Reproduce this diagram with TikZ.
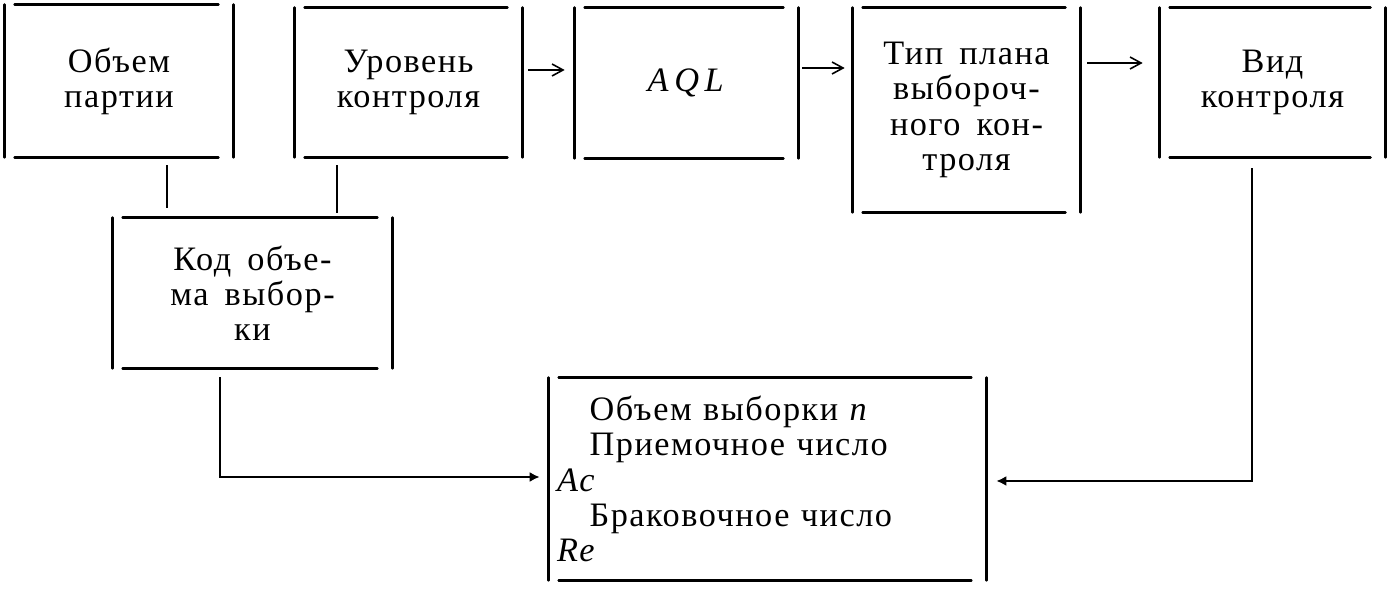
\documentclass[tikz,border=0pt]{standalone}
\usepackage{fontspec}
\setmainfont[LetterSpace=4.5,WordSpace=1.6]{Liberation Serif}
\usepackage{tikz}
\usetikzlibrary{arrows.meta,positioning,calc}
\tikzset{
  rama/.style={line width=1.6pt,line cap=round},
  blok/.style={align=center,inner sep=0pt,font=\fontsize{19.5}{20}\selectfont,
    append after command={
      (\tikzlastnode.north west) edge[rama] (\tikzlastnode.south west)
      (\tikzlastnode.north east) edge[rama] (\tikzlastnode.south east)
      ([xshift=2mm]\tikzlastnode.north west) edge[rama] ([xshift=-3mm]\tikzlastnode.north east)
      ([xshift=2mm]\tikzlastnode.south west) edge[rama] ([xshift=-3mm]\tikzlastnode.south east)}},
  linia/.style={line width=1.4pt},
  strz/.style={line width=0.9pt,-{Straight Barb[length=2.2mm,width=2.4mm]}},
  strzb/.style={line width=1.4pt,-{Latex[length=2mm,width=2mm]}}
}
\begin{document}
\begin{tikzpicture}[x=0.02cm,y=-0.02cm]
  \useasboundingbox (0,0) rectangle (1396,590);
  % upper row
  \node[blok,minimum width=4.56cm,minimum height=3.04cm] (b1) at (119,81) {Объем\\партии};
  \node[blok,minimum width=4.54cm,minimum height=2.98cm] (b2) at (408.5,82.5) {Уровень\\контроля};
  \node[blok,minimum width=4.46cm,minimum height=3.0cm] (b3) at (686.5,83) {\textit{A\,Q\,L}};
  \node[blok,minimum width=4.54cm,minimum height=4.08cm] (b4) at (966.5,110) {Тип плана\\выбороч-\\ного кон-\\троля};
  \node[blok,minimum width=4.5cm,minimum height=2.98cm] (b5) at (1272.5,82.5) {Вид\\контроля};
  % lower boxes
  \node[blok,minimum width=5.58cm,minimum height=3.0cm] (b6) at (252.5,293) {Код объе-\\ма выбор-\\ки};
  \node[blok,minimum width=8.74cm,minimum height=4.04cm,inner xsep=0.16cm,text width=8.42cm,align=left] (b7) at (767.5,479)
    {\hspace*{0.95em}Объем выборки \textit{n}\\
     \hspace*{0.95em}Приемочное число\\
     \textit{Ac}\\
     \hspace*{0.95em}Браковочное число\\
     \textit{Re}};
  % arrows between upper boxes
  \draw[strz,shorten <=0.12cm,shorten >=0.2cm] (b2.east |- 0,70) -- (b3.west |- 0,70);
  \draw[strz,shorten <=0.08cm,shorten >=0.16cm] (b3.east |- 0,68) -- (b4.west |- 0,68);
  \draw[strz,shorten <=0.14cm,shorten >=0.34cm] (b4.east |- 0,63) -- (b5.west |- 0,63);
  % links to the code box
  \draw[linia,shorten <=0.16cm,shorten >=0.2cm] (b1.south -| 167,0) -- (b6.north -| 167,0);
  \draw[linia,shorten <=0.16cm,shorten >=0.1cm] (b2.south -| 337,0) -- (b6.north -| 337,0);
  % links to the result box
  \draw[strzb,shorten <=0.18cm,shorten >=0.18cm] (b6.south -| 220,0) |- (b7.west |- 0,477);
  \draw[strzb,shorten <=0.22cm,shorten >=0.2cm] (b5.south -| 1252,0) |- (b7.east |- 0,481);
\end{tikzpicture}
\end{document}
